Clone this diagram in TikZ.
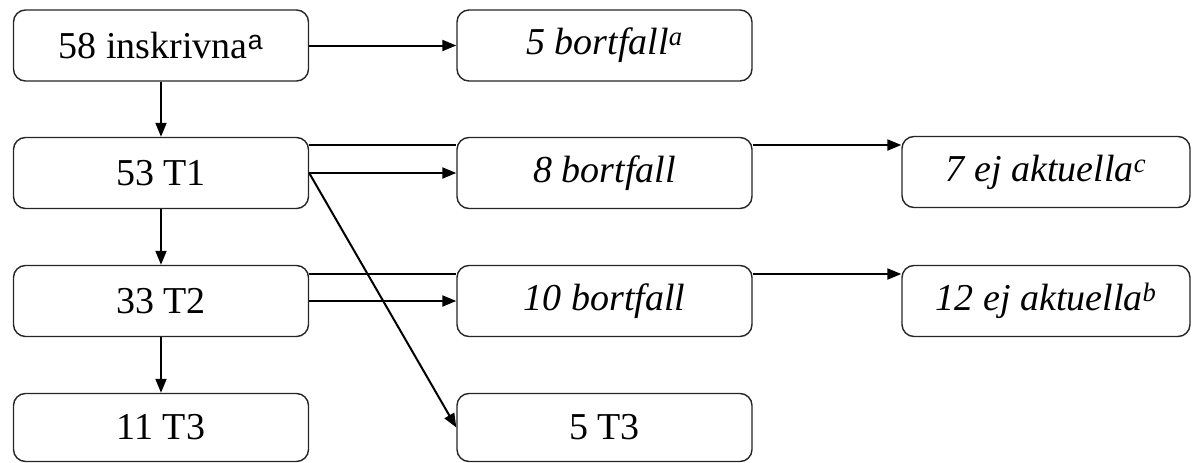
\documentclass[tikz,border=0pt]{standalone}
\usepackage{fontspec}
\setmainfont{Liberation Serif}
\newfontfamily\supsans{Liberation Sans}
\usetikzlibrary{arrows.meta}
\begin{document}
\begin{tikzpicture}[x=1pt,y=1pt,
  box/.style={draw=black!85, line width=1.4pt, rounded corners=12pt, fill=white,
    minimum height=71pt, inner sep=0pt, font=\fontsize{38}{44}\selectfont},
  lbox/.style={box, minimum width=295pt},
  rbox/.style={box, minimum width=288pt},
  conn/.style={line width=2pt, -{Triangle[length=14pt,width=11pt]}},
  plain/.style={line width=2pt}]
\useasboundingbox (0,0) rectangle (1192,-463);
\node[lbox] (A) at (161,-45.5) {58 inskrivna\textsuperscript{\supsans a}};
\node[lbox] (B) at (604.5,-45.5) {\itshape 5 bortfall\textsuperscript{a}};
\node[lbox] (C) at (161,-173) {53 T1};
\node[lbox] (D) at (604.5,-173) {\itshape 8 bortfall};
\node[rbox] (E) at (1046,-172) {\itshape 7 ej aktuella\textsuperscript{c}};
\node[lbox] (F) at (161,-301) {33 T2};
\node[lbox] (G) at (604.5,-301) {\itshape 10 bortfall};
\node[rbox] (H) at (1046,-301) {\itshape 12 ej aktuella\textsuperscript{b}};
\node[lbox, minimum height=68pt] (I) at (161,-427.5) {11 T3};
\node[lbox, minimum height=68pt] (J) at (604.5,-427.5) {5 T3};
% vertical
\draw[conn] (A.south) -- (C.north);
\draw[conn] (C.south) -- (F.north);
\draw[conn] (F.south) -- (I.north);
% horizontal
\draw[conn] (A.east) -- (B.west);
\draw[conn] (C.east) -- (D.west);
\draw[conn] (F.east) -- (G.west);
\draw[plain] ([yshift=28pt]C.east) -- ([yshift=28pt]C.east -| D.west);
\draw[conn] ([yshift=28pt]C.east -| D.east) -- ([yshift=28pt]C.east -| E.west);
\draw[plain] ([yshift=27pt]F.east) -- ([yshift=27pt]F.east -| G.west);
\draw[conn] ([yshift=27pt]F.east -| G.east) -- ([yshift=27pt]F.east -| H.west);
% diagonal
\draw[conn] (C.east) -- (J.west);
\end{tikzpicture}
\end{document}
